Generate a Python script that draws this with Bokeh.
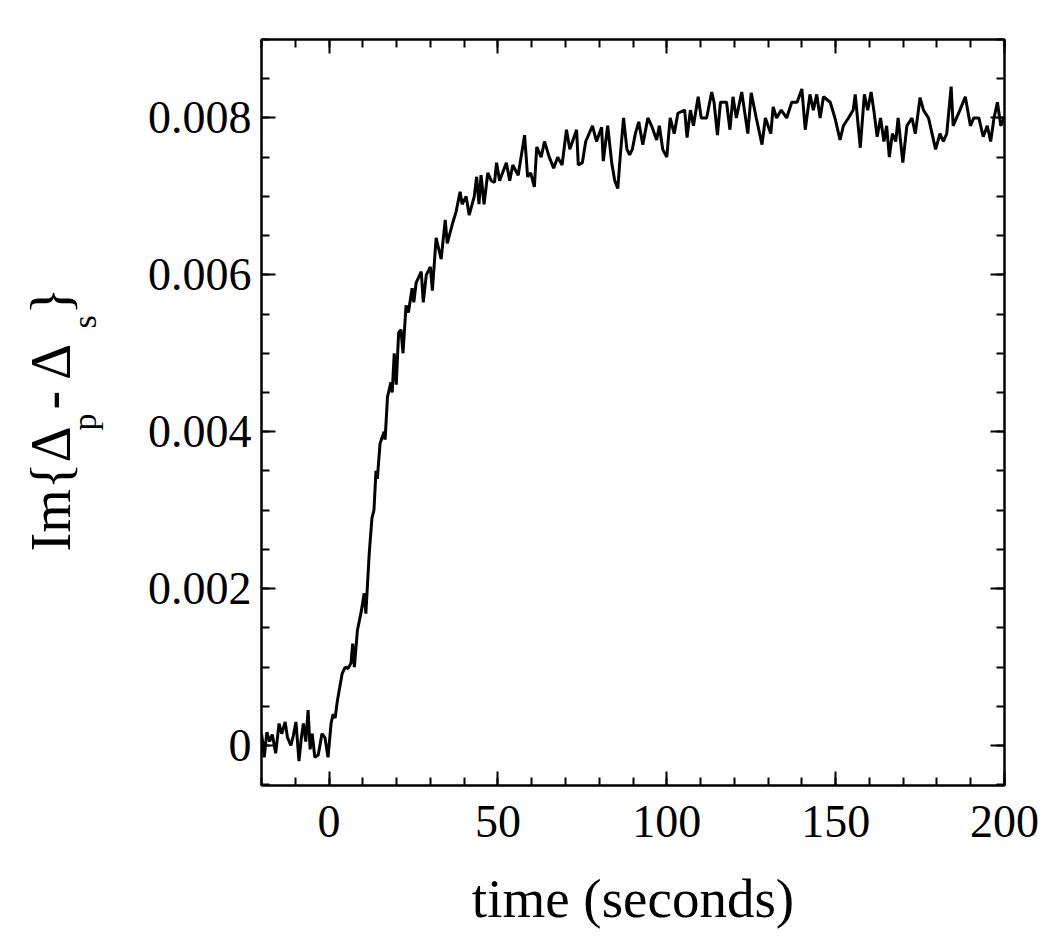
import math
from bokeh.plotting import figure
from bokeh.layouts import row
from bokeh.models import (LinearAxis, FixedTicker, Range1d, Label,
                          CustomJSTickFormatter)
from bokeh.embed import file_html
from bokeh.resources import INLINE

# ---------------- data ----------------
time_s = [
    -20.0, -19.5, -19.2, -18.4, -17.6, -16.8, -15.8, -14.8, -14.0, -13.0,
    -12.3, -11.3, -10.6, -9.8, -8.9, -8.2, -7.6, -6.9, -6.2, -5.6,
    -5.0, -4.2, -3.2, -2.1, -1.2, -0.3, 0.6, 1.2, 1.8, 2.4,
    3.0, 3.9, 4.8, 5.6, 6.5, 7.0, 7.5, 8.4, 9.5, 10.4,
    10.9, 11.9, 12.7, 13.3, 13.9, 14.3, 15.1, 16.3, 16.6, 17.3,
    18.3, 18.7, 19.3, 19.9, 20.6, 21.3, 21.9, 22.8, 23.5, 24.6,
    25.1, 25.8, 27.3, 27.9, 28.8, 30.0, 30.6, 31.7, 33.2, 34.4,
    35.0, 36.6, 37.6, 38.8, 39.4, 40.6, 41.5, 43.0, 43.7, 44.4,
    45.0, 45.9, 47.0, 48.0, 49.0, 49.6, 50.5, 52.5, 53.5, 54.4,
    56.0, 57.9, 58.8, 59.7, 60.8, 61.5, 62.8, 63.8, 65.2, 66.5,
    67.7, 69.0, 70.3, 71.3, 73.3, 73.8, 75.0, 76.0, 78.0, 79.2,
    80.7, 81.2, 82.5, 83.7, 84.6, 85.5, 86.2, 87.2, 88.2, 89.0,
    89.8, 90.7, 91.7, 92.9, 94.4, 95.5, 97.0, 97.8, 98.8, 100.0,
    101.0, 102.2, 103.3, 105.3, 106.0, 107.0, 107.9, 109.3, 110.2, 111.8,
    113.3, 114.0, 115.0, 115.9, 117.7, 118.7, 119.6, 120.6, 122.2, 124.0,
    125.0, 126.5, 128.2, 129.2, 130.8, 131.5, 132.5, 133.9, 135.5, 137.0,
    138.6, 140.0, 141.0, 142.4, 143.4, 144.4, 145.4, 146.4, 148.4, 149.8,
    151.3, 152.3, 153.8, 155.2, 155.8, 157.3, 158.5, 159.5, 160.5, 161.3,
    162.3, 163.3, 164.3, 165.1, 165.9, 166.8, 167.8, 168.5, 169.9, 171.1,
    172.6, 173.6, 175.0, 176.0, 177.5, 179.6, 180.9, 181.9, 182.9, 184.2,
    184.8, 185.8, 186.8, 188.4, 189.9, 190.9, 192.4, 193.7, 194.9, 195.9,
    196.9, 197.9, 198.9, 199.9,
]
im_delta = [
    0.00015, 0.0, -0.00015, 0.00017, 0.00005, 0.00014, -0.0001, 0.00028, 0.00015, 0.0003,
    0.0001, 0.0, 0.00012, 0.0003, -0.0002, 0.0001, 0.00028, 0.00005, 0.00045, -0.00005,
    0.00015, -0.00015, -0.00012, 0.00015, 0.0001, -0.00015, 0.00028, 0.0004, 0.00035, 0.00055,
    0.0007, 0.00092, 0.001, 0.00098, 0.00105, 0.0013, 0.001, 0.00147, 0.0017, 0.00194,
    0.00168, 0.00245, 0.0029, 0.0030, 0.0035, 0.0034, 0.00385, 0.004, 0.0039, 0.00444,
    0.00463, 0.0045, 0.005, 0.0046, 0.00526, 0.0053, 0.005, 0.00561, 0.00552, 0.00583,
    0.00565, 0.0059, 0.00604, 0.00565, 0.006, 0.0061, 0.0058, 0.00647, 0.0062, 0.0067,
    0.0064, 0.00666, 0.0068, 0.00706, 0.0069, 0.007, 0.00676, 0.007, 0.00725, 0.0069,
    0.00727, 0.0069, 0.0073, 0.0072, 0.00718, 0.00743, 0.0072, 0.00743, 0.0072, 0.0074,
    0.00727, 0.00778, 0.00725, 0.0073, 0.00712, 0.00763, 0.0075, 0.0077, 0.0075, 0.00736,
    0.0075, 0.0074, 0.00785, 0.0076, 0.00785, 0.0074, 0.00743, 0.0077, 0.0079, 0.0077,
    0.00788, 0.00745, 0.0079, 0.00743, 0.0072, 0.0071, 0.0075, 0.008, 0.0076, 0.00753,
    0.0076, 0.0078, 0.00795, 0.00766, 0.008, 0.0079, 0.00772, 0.0079, 0.0076, 0.0075,
    0.008, 0.0078, 0.00806, 0.0081, 0.00775, 0.0081, 0.0079, 0.00827, 0.0080, 0.008,
    0.00833, 0.0082, 0.00778, 0.0082, 0.0082, 0.00785, 0.00827, 0.0080, 0.00833, 0.0078,
    0.00832, 0.0080, 0.00766, 0.0080, 0.0078, 0.00814, 0.0080, 0.0081, 0.0080, 0.0082,
    0.0082, 0.00837, 0.00785, 0.0083, 0.0081, 0.0083, 0.008, 0.00827, 0.0082, 0.008,
    0.00772, 0.0079, 0.0080, 0.0081, 0.0083, 0.00762, 0.0083, 0.0081, 0.00833, 0.0081,
    0.00776, 0.0080, 0.0077, 0.0079, 0.0075, 0.0078, 0.0077, 0.008, 0.00743, 0.0079,
    0.0080, 0.0078, 0.00826, 0.0081, 0.0080, 0.0076, 0.0078, 0.0077, 0.0078, 0.0084,
    0.0079, 0.0080, 0.0081, 0.00827, 0.0079, 0.008, 0.008, 0.00776, 0.0079, 0.0077,
    0.0080, 0.0082, 0.0079, 0.008,
]
x_major_ticks = [0, 50, 100, 150, 200]
y_major_ticks = [0.0, 0.002, 0.004, 0.006, 0.008]
x_label = "time (seconds)"
y_label_parts = ["Im{\u0394", "p", " - \u0394", "s", "}"]

# ---------------- layout ----------------
X0, X1 = -20.0, 200.0
Y0, Y1 = -0.00051, 0.009
FW, FH = 743, 746
LABEL_W = 120                       # width of the strip holding the y label
BL, BR, BT, BB = 261 - LABEL_W, 36, 39, 150
TOTAL_H = BT + FH + BB
FONT = "Liberation Serif"

p = figure(frame_width=FW, frame_height=FH,
           x_range=Range1d(X0, X1), y_range=Range1d(Y0, Y1),
           output_backend="svg", toolbar_location=None,
           min_border_left=BL, min_border_right=BR,
           min_border_top=BT, min_border_bottom=BB,
           x_axis_location=None, y_axis_location=None)
p.xgrid.visible = False
p.ygrid.visible = False
p.outline_line_color = "black"
p.outline_line_width = 2
p.background_fill_color = "white"
p.border_fill_color = "white"

x_minor = [X0 + 10 * i for i in range(23)]
y_minor = [-0.0005 + 0.0005 * i for i in range(20)]
yfmt = CustomJSTickFormatter(code="return tick == 0 ? '0' : tick.toFixed(3);")
xfmt = CustomJSTickFormatter(code="return tick.toFixed(0);")
blank = CustomJSTickFormatter(code="return '';")


def style(ax, formatter):
    ax.axis_line_width = 2
    ax.axis_line_color = "black"
    ax.major_tick_in = 14
    ax.major_tick_out = 0
    ax.minor_tick_in = 8
    ax.minor_tick_out = 0
    ax.major_tick_line_width = 2
    ax.minor_tick_line_width = 2
    ax.major_tick_line_color = "black"
    ax.minor_tick_line_color = "black"
    ax.major_label_text_font = FONT
    ax.major_label_text_font_size = "46px"
    ax.major_label_text_color = "black"
    ax.formatter = formatter


xb = LinearAxis(ticker=FixedTicker(ticks=x_major_ticks, minor_ticks=x_minor))
style(xb, xfmt)
xb.major_label_standoff = 20
xb.axis_label = x_label
xb.axis_label_text_font = FONT
xb.axis_label_text_font_size = "55px"
xb.axis_label_text_font_style = "normal"
xb.axis_label_text_color = "black"
xb.axis_label_standoff = 28
p.add_layout(xb, "below")

xt = LinearAxis(ticker=FixedTicker(ticks=x_major_ticks, minor_ticks=x_minor))
style(xt, blank)
p.add_layout(xt, "above")

yl = LinearAxis(ticker=FixedTicker(ticks=y_major_ticks, minor_ticks=y_minor))
style(yl, yfmt)
yl.major_label_standoff = 10
p.add_layout(yl, "left")

yr = LinearAxis(ticker=FixedTicker(ticks=y_major_ticks, minor_ticks=y_minor))
style(yr, blank)
p.add_layout(yr, "right")

p.line(time_s, im_delta, line_color="black", line_width=3)

# ---------------- strip with the rotated y label (pixel coordinates) ----------------
q = figure(frame_width=LABEL_W, frame_height=TOTAL_H,
           x_range=Range1d(0, LABEL_W), y_range=Range1d(TOTAL_H, 0),
           output_backend="svg", toolbar_location=None,
           min_border=0, x_axis_location=None, y_axis_location=None)
q.xgrid.visible = False
q.ygrid.visible = False
q.outline_line_color = None
q.background_fill_color = "white"
q.border_fill_color = "white"

main_fs, sub_fs = 56, 34
pieces = [
    (y_label_parts[0], 512, 50, main_fs),
    (y_label_parts[1], 391, 84, sub_fs),
    (y_label_parts[2], 370, 50, main_fs),
    (y_label_parts[3], 289, 84, sub_fs),
    (y_label_parts[4], 275, 50, main_fs),
]
for txt, py, bx, fs in pieces:
    q.add_layout(Label(x=bx, y=py, text=txt, angle=math.pi / 2,
                       text_font=FONT, text_font_size=f"{fs}px",
                       text_color="black", text_align="left",
                       text_baseline="alphabetic"))

layout = row(q, p, spacing=0)
open("out.html", "w").write(file_html(layout, INLINE))
